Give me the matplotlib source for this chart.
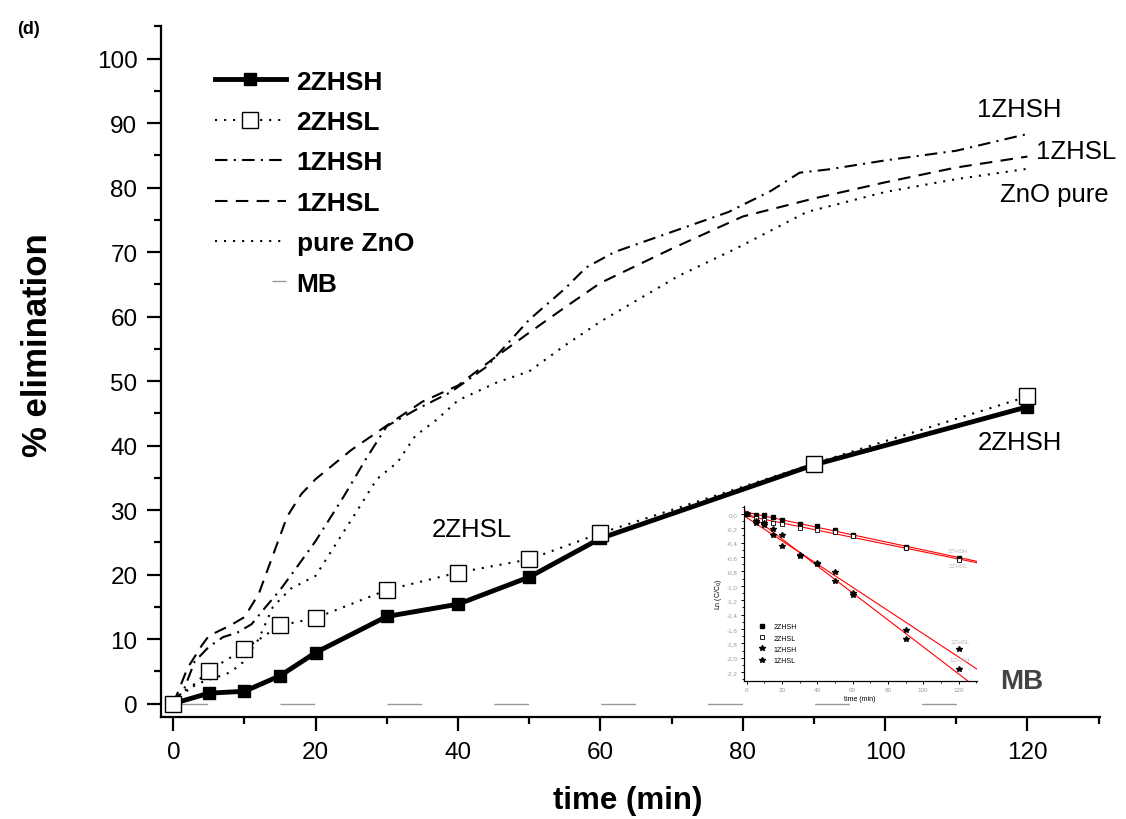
import matplotlib
matplotlib.use("Agg")
import matplotlib.pyplot as plt
import numpy as np
from matplotlib.lines import Line2D
from matplotlib.ticker import MultipleLocator, FuncFormatter

plt.rcParams["font.family"] = ["Liberation Sans", "DejaVu Sans"]
plt.rcParams["lines.scale_dashes"] = False

# sampled times with markers (min)
t_marked = [0, 5, 10, 15, 20, 30, 40, 50, 60, 90, 120]
zhsh2 = [0, 1.6, 1.9, 4.3, 7.9, 13.5, 15.4, 19.6, 25.6, 37.0, 46.0]
zhsl2 = [0, 5.1, 8.45, 12.1, 13.25, 17.6, 20.3, 22.35, 26.4, 37.2, 47.6]

# smooth curves without markers
t_zhsh1 = [0, 1.5, 3, 5, 7, 9, 11, 13, 15, 17, 20, 24, 27, 30, 34, 39, 44, 50,
           55, 58, 62, 70, 78, 84, 88, 92, 100, 110, 120]
zhsh1 = [0, 2.2, 6.5, 8.8, 10.3, 11, 12.3, 15, 17.6, 20.6, 25.2, 32.2, 37.8, 43,
         45.5, 48.3, 52.2, 59.5, 64.3, 67.6, 70, 73.1, 76.2, 79.5, 82.3, 82.8, 84.2, 85.7, 88.3]

t_zhsl1 = [0, 2, 4, 5, 8, 10, 12, 14, 16, 18, 20, 25, 30, 35, 40, 45, 50, 55, 60,
           70, 80, 90, 100, 110, 120]
zhsl1 = [0, 5.5, 9, 10.5, 12.1, 13.4, 17, 23, 29, 32.5, 34.8, 39.3, 43.1, 46.8,
         49.3, 53.5, 57.5, 61.4, 65.2, 70.5, 75.5, 78.3, 80.8, 83.1, 84.8]

t_zno = [0, 1, 4, 7.5, 9.5, 12, 14, 16.5, 20, 23, 26, 28.6, 31.5, 34, 37, 40, 45.5,
         50, 55, 60, 63.4, 71, 79, 89, 100, 110, 120]
zno = [0, 1.7, 3.3, 4.6, 6, 10, 15, 17.8, 19.8, 25, 30.2, 34.8, 37.4, 41.5, 44, 47,
       49.8, 51.5, 55.5, 59.2, 61.4, 66.3, 70.5, 76.2, 79.3, 81.3, 82.9]

t_mb = [0, 120]
mb = [0, 0]

# inset: ln(C/C0)
ln_zhsh2 = [0, -0.016, -0.02, -0.04, -0.08, -0.145, -0.17, -0.22, -0.29, -0.46, -0.61]
ln_zhsl2 = [0, -0.05, -0.08, -0.13, -0.14, -0.19, -0.23, -0.25, -0.31, -0.47, -0.64]
ln_zhsh1 = [0, -0.10, -0.13, -0.21, -0.30, -0.57, -0.69, -0.93, -1.13, -1.74, -2.16]
ln_zhsl1 = [0, -0.12, -0.15, -0.30, -0.44, -0.58, -0.68, -0.81, -1.10, -1.61, -1.88]

W, H = 1126, 820
fig = plt.figure(figsize=(W / 100, H / 100), dpi=100)
ax = fig.add_axes([161 / W, 1 - 718 / H, (1100 - 161) / W, (718 - 27) / H])

h1, = ax.plot(t_marked, zhsh2, color="black", lw=3.5, marker="s", ms=9,
              mfc="black", mec="black", label="2ZHSH", zorder=5)
h2, = ax.plot(t_marked, zhsl2, color="black", lw=1.5, ls=(0, (1.5, 5)), marker="s",
              ms=11.5, mfc="white", mec="black", mew=1.0, label="2ZHSL", zorder=6)
h3, = ax.plot(t_zhsh1, zhsh1, color="black", lw=1.5, ls=(0, (9, 4.5, 1.5, 4.5)), label="1ZHSH")
h4, = ax.plot(t_zhsl1, zhsl1, color="black", lw=1.5, ls=(0, (9, 6)), label="1ZHSL")
h5, = ax.plot(t_zno, zno, color="black", lw=1.5, ls=(0, (1.5, 5)), label="pure ZnO")
ax.plot(t_mb, mb, color="#999999", lw=1.0, ls=(0, (25, 52)), zorder=3)
h6 = Line2D([], [], color="#999999", lw=1.0, ls=(36, (25, 52)), label="MB")

ax.set_xlim(-1.73, 130.2)
ax.set_ylim(-2.09, 105.04)
ax.xaxis.set_major_locator(MultipleLocator(20))
ax.xaxis.set_minor_locator(MultipleLocator(10))
ax.yaxis.set_major_locator(MultipleLocator(10))
ax.yaxis.set_minor_locator(MultipleLocator(5))
for s in ["top", "right"]:
    ax.spines[s].set_visible(False)
for s in ["left", "bottom"]:
    ax.spines[s].set_linewidth(1.6)
ax.tick_params(which="major", direction="out", length=10, width=1.6, pad=7, labelsize=17.5)
ax.tick_params(which="minor", direction="out", length=5, width=1.6)

fig.text(628 / W, 1 - 801 / H, "time (min)", fontsize=22.5, fontweight="bold",
         ha="center", va="center")
fig.text(38 / W, 1 - 345 / H, "% elimination", fontsize=25, fontweight="bold",
         ha="center", va="center", rotation=90)
fig.text(28 / W, 1 - 29 / H, "(d)", fontsize=13, fontweight="bold", ha="center", va="center")

leg = ax.legend(handles=[h1, h2, h3, h4, h5, h6], loc="upper left",
                bbox_to_anchor=(0.046, 0.952), frameon=False,
                prop={"weight": "bold", "size": 19}, handlelength=2.7,
                handletextpad=0.4, labelspacing=0.62, borderaxespad=0)

# curve labels
ax.text(118.9, 92.2, "1ZHSH", fontsize=18.5, ha="center", va="center")
ax.text(126.9, 85.7, "1ZHSL", fontsize=18.5, ha="center", va="center", clip_on=False)
ax.text(123.8, 79.0, "ZnO pure", fontsize=18.5, ha="center", va="center", clip_on=False)
ax.text(118.9, 40.5, "2ZHSH", fontsize=18.5, ha="center", va="center")
ax.text(42.0, 27.1, "2ZHSL", fontsize=18.5, ha="center", va="center")
ax.text(119.2, 3.5, "MB", fontsize=20, fontweight="bold", color="#444444",
        ha="center", va="center")

# inset
axi = fig.add_axes([743.7 / W, 1 - 681.7 / H, 233 / W, 174.7 / H])
axi.patch.set_alpha(0)
tt = np.array(t_marked, dtype=float)
xfit = np.array([-1.7, 131])
for vals in [ln_zhsh2, ln_zhsl2, ln_zhsh1, ln_zhsl1]:
    k, b = np.polyfit(tt, vals, 1)
    axi.plot(xfit, k * xfit + b, color="red", lw=0.8)
axi.plot(tt, ln_zhsh2, ls="none", marker="s", ms=2.5, mfc="black", mec="black", label="2ZHSH")
axi.plot(tt, ln_zhsl2, ls="none", marker="s", ms=2.5, mfc="white", mec="black", mew=0.6, label="2ZHSL")
axi.plot(tt, ln_zhsh1, ls="none", marker="*", ms=4, color="black", label="1ZHSH")
axi.plot(tt, ln_zhsl1, ls="none", marker="*", ms=4, color="black", label="1ZHSL")
axi.set_xlim(-1.7, 130.3)
axi.set_ylim(-2.32, 0.11)
axi.xaxis.set_major_locator(MultipleLocator(20))
axi.xaxis.set_minor_locator(MultipleLocator(10))
axi.yaxis.set_major_locator(MultipleLocator(0.2))
axi.yaxis.set_minor_locator(MultipleLocator(0.1))
axi.yaxis.set_major_formatter(FuncFormatter(lambda v, p: f"{v:.1f}".replace(".", ",").replace("-0,0", "0,0")))
for s in ["top", "right"]:
    axi.spines[s].set_visible(False)
for s in ["left", "bottom"]:
    axi.spines[s].set_linewidth(0.9)
axi.tick_params(which="major", direction="out", length=2.5, width=0.7, pad=2,
                labelsize=4.5, labelcolor="#999999")
axi.tick_params(which="minor", direction="out", length=1.5, width=0.6)
axi.set_xlabel("time (min)", fontsize=5, labelpad=2)
axi.set_ylabel("Ln (C/C$_0$)", fontsize=5, labelpad=2)
axi.legend(loc="lower left", bbox_to_anchor=(0.05, 0.08), frameon=False, fontsize=5,
           handlelength=1, handletextpad=1.2, labelspacing=0.6, borderaxespad=0)
axi.text(119.9, -0.51, "2ZHSH", fontsize=4.5, color="#bbbbbb", ha="center", va="center")
axi.text(119.9, -0.72, "2ZHSL", fontsize=4.5, color="#bbbbbb", ha="center", va="center")
axi.text(120.8, -1.78, "1ZHSL", fontsize=4.5, color="#bbbbbb", ha="center", va="center")
axi.text(120.8, -2.03, "1ZHSH", fontsize=4.5, color="#bbbbbb", ha="center", va="center")

fig.savefig("out.png", dpi=100)
